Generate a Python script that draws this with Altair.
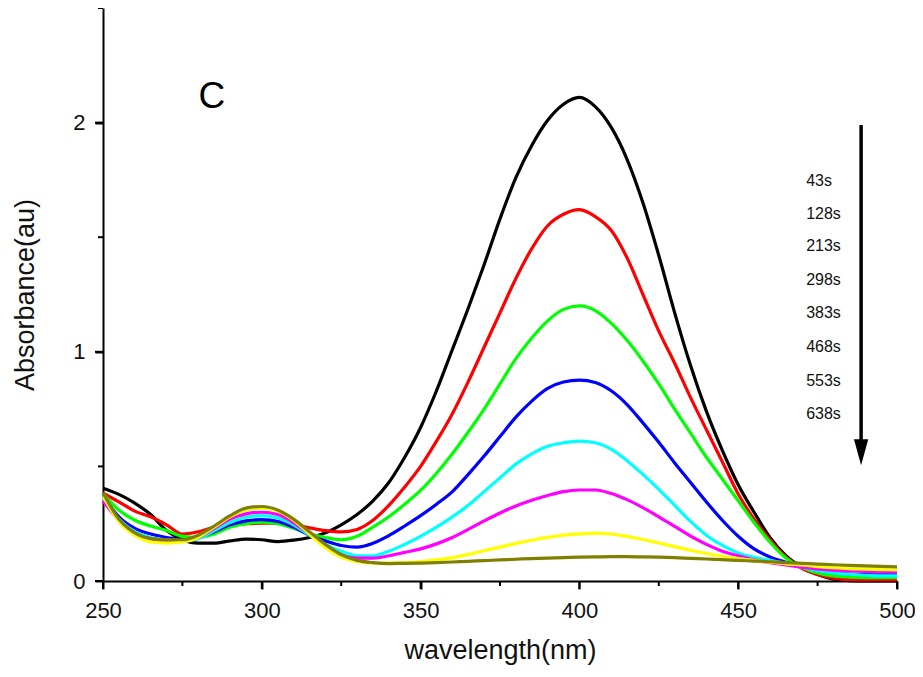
import altair as alt
import pandas as pd

wavelength = [250, 255, 260, 265, 270, 275, 280, 285, 290, 295, 300, 305, 310, 315, 320, 325,
              330, 335, 340, 345, 350, 355, 360, 365, 370, 375, 380, 385, 390, 395, 400, 405,
              410, 415, 420, 425, 430, 435, 440, 445, 450, 455, 460, 465, 470, 475, 480, 485,
              490, 495, 500]

times = ["43s", "128s", "213s", "298s", "383s", "468s", "553s", "638s"]
colors = ["#000000", "#ff0000", "#00ff00", "#0000ff", "#00ffff", "#ff00ff", "#ffff00", "#808000"]

abs_43 = [0.405, 0.378, 0.34, 0.29, 0.22, 0.18, 0.165, 0.165, 0.175, 0.183, 0.18, 0.172, 0.178, 0.19,
          0.21, 0.245, 0.29, 0.35, 0.43, 0.54, 0.67, 0.83, 1.01, 1.19, 1.38, 1.58, 1.76, 1.90, 2.01,
          2.08, 2.11, 2.07, 1.98, 1.84, 1.65, 1.42, 1.17, 0.94, 0.74, 0.57, 0.42, 0.30, 0.19, 0.11,
          0.06, 0.028, 0.008, 0.002, 0.0, 0.0, 0.0]
abs_128 = [0.383, 0.345, 0.305, 0.28, 0.245, 0.205, 0.215, 0.235, 0.245, 0.25, 0.252, 0.252, 0.245,
           0.232, 0.22, 0.214, 0.225, 0.265, 0.33, 0.41, 0.50, 0.61, 0.73, 0.87, 1.02, 1.17, 1.32,
           1.45, 1.55, 1.60, 1.62, 1.59, 1.53, 1.41, 1.25, 1.09, 0.95, 0.80, 0.66, 0.52, 0.38, 0.27,
           0.18, 0.105, 0.055, 0.028, 0.012, 0.006, 0.005, 0.005, 0.005]
abs_213 = [0.38, 0.31, 0.265, 0.24, 0.22, 0.195, 0.19, 0.205, 0.235, 0.25, 0.257, 0.25, 0.23, 0.205,
           0.19, 0.18, 0.195, 0.235, 0.28, 0.335, 0.395, 0.47, 0.555, 0.65, 0.75, 0.86, 0.97, 1.06,
           1.135, 1.185, 1.20, 1.18, 1.125, 1.05, 0.96, 0.86, 0.75, 0.645, 0.54, 0.445, 0.35, 0.255,
           0.17, 0.10, 0.06, 0.035, 0.022, 0.017, 0.015, 0.015, 0.015]
abs_298 = [0.37, 0.28, 0.23, 0.205, 0.19, 0.18, 0.19, 0.215, 0.245, 0.262, 0.268, 0.26, 0.235, 0.2,
           0.175, 0.155, 0.148, 0.165, 0.198, 0.24, 0.285, 0.335, 0.39, 0.465, 0.545, 0.63, 0.715,
           0.785, 0.84, 0.868, 0.876, 0.866, 0.83, 0.77, 0.69, 0.605, 0.515, 0.43, 0.345, 0.265,
           0.195, 0.14, 0.105, 0.082, 0.062, 0.046, 0.036, 0.03, 0.028, 0.027, 0.027]
abs_383 = [0.36, 0.27, 0.215, 0.19, 0.18, 0.175, 0.185, 0.22, 0.255, 0.278, 0.285, 0.275, 0.245, 0.2,
           0.16, 0.13, 0.11, 0.11, 0.13, 0.16, 0.195, 0.235, 0.28, 0.33, 0.39, 0.45, 0.51, 0.555,
           0.588, 0.603, 0.61, 0.603, 0.575, 0.525, 0.465, 0.40, 0.33, 0.26, 0.20, 0.155, 0.122,
           0.103, 0.09, 0.076, 0.06, 0.045, 0.035, 0.03, 0.025, 0.022, 0.022]
abs_468 = [0.35, 0.265, 0.205, 0.185, 0.175, 0.175, 0.19, 0.23, 0.27, 0.293, 0.30, 0.29, 0.255, 0.205,
           0.155, 0.115, 0.10, 0.10, 0.11, 0.125, 0.14, 0.162, 0.19, 0.225, 0.262, 0.297, 0.327,
           0.352, 0.373, 0.39, 0.397, 0.397, 0.382, 0.355, 0.32, 0.28, 0.238, 0.196, 0.16, 0.13,
           0.11, 0.092, 0.08, 0.07, 0.06, 0.052, 0.047, 0.044, 0.042, 0.041, 0.04]
abs_553 = [0.37, 0.26, 0.20, 0.17, 0.165, 0.17, 0.19, 0.235, 0.28, 0.31, 0.318, 0.305, 0.265, 0.205,
           0.145, 0.105, 0.085, 0.078, 0.078, 0.08, 0.085, 0.092, 0.102, 0.116, 0.132, 0.148, 0.164,
           0.178, 0.19, 0.20, 0.206, 0.209, 0.205, 0.195, 0.181, 0.166, 0.15, 0.134, 0.12, 0.108,
           0.098, 0.09, 0.082, 0.075, 0.07, 0.063, 0.058, 0.054, 0.052, 0.05, 0.048]
abs_638 = [0.385, 0.27, 0.21, 0.185, 0.18, 0.18, 0.20, 0.24, 0.285, 0.318, 0.325, 0.31, 0.27, 0.215,
           0.16, 0.115, 0.09, 0.08, 0.076, 0.077, 0.078, 0.08, 0.083, 0.086, 0.089, 0.092, 0.095,
           0.098, 0.10, 0.102, 0.104, 0.105, 0.106, 0.106, 0.105, 0.104, 0.102, 0.099, 0.096, 0.093,
           0.09, 0.087, 0.084, 0.08, 0.077, 0.074, 0.071, 0.068, 0.066, 0.064, 0.062]

series = [abs_43, abs_128, abs_213, abs_298, abs_383, abs_468, abs_553, abs_638]

# axis tick values
x_major = [250, 300, 350, 400, 450, 500]
x_minor = [275, 325, 375, 425, 475]
y_major = [0, 1, 2]
y_minor = [0.5, 1.5, 2.5]

# legend-like labels and arrow annotation (data coordinates)
label_x = [471.4] * 8
label_y = [1.747, 1.603, 1.46, 1.312, 1.168, 1.02, 0.871, 0.728]
arrow_x = [488.7]
arrow_top = [1.99]
arrow_bottom = [0.58]
arrow_head_y = [0.562]
panel_letter = ["C"]
panel_x = [284.3]
panel_y = [2.11]

rows = []
for order, (t, vals) in enumerate(zip(times, series)):
    for w, v in zip(wavelength, vals):
        rows.append({"wavelength": w, "absorbance": v, "time": t, "order": order})
df = pd.DataFrame(rows)

W, H = 794, 573
FONT = "Liberation Sans"
xs = alt.Scale(domain=[250, 500], nice=False, zero=False)
ys = alt.Scale(domain=[0, 2.5], nice=False, zero=True)

x_axis = alt.Axis(
    values=x_major, ticks=True, tickSize=8, tickColor="black", tickWidth=2, orient="bottom",
    format="d", labelFlush=False, grid=False, domainColor="black", domainWidth=2,
    labelFont=FONT, labelFontSize=22, labelColor="#111", labelPadding=11,
    title="wavelength(nm)", titleFont=FONT, titleFontSize=27, titleFontWeight="normal",
    titleColor="#111", titlePadding=16,
)
y_axis = alt.Axis(
    values=y_major, ticks=True, tickSize=8, tickColor="black", tickWidth=2, orient="left",
    format="d", labelFlush=False, grid=False, domainColor="black", domainWidth=2,
    labelFont=FONT, labelFontSize=22, labelColor="#111", labelPadding=10,
    title="Absorbance(au)", titleFont=FONT, titleFontSize=27, titleFontWeight="normal",
    titleColor="#111", titlePadding=33,
)

lines = alt.Chart(df).mark_line(strokeWidth=3.2, interpolate="monotone").encode(
    x=alt.X("wavelength:Q", scale=xs, axis=x_axis),
    y=alt.Y("absorbance:Q", scale=ys, axis=y_axis),
    color=alt.Color("time:N", scale=alt.Scale(domain=times, range=colors), legend=None),
    strokeWidth=alt.condition("datum.time === '638s'", alt.value(4.2), alt.value(3.2)),
    order=alt.Order("order:Q"),
)

# explicit tick marks (positions from the shared scales)
xmaj_t = alt.Chart(pd.DataFrame({"v": x_major})).mark_rule(color="black", strokeWidth=2).encode(
    x=alt.X("v:Q", scale=xs), y=alt.value(H), y2=alt.value(H + 8))
xmin_t = alt.Chart(pd.DataFrame({"v": x_minor})).mark_rule(color="black", strokeWidth=2).encode(
    x=alt.X("v:Q", scale=xs), y=alt.value(H), y2=alt.value(H + 5))
ymaj_t = alt.Chart(pd.DataFrame({"v": y_major})).mark_rule(color="black", strokeWidth=2).encode(
    y=alt.Y("v:Q", scale=ys), x=alt.value(0), x2=alt.value(-8))
ymin_t = alt.Chart(pd.DataFrame({"v": y_minor})).mark_rule(color="black", strokeWidth=2).encode(
    y=alt.Y("v:Q", scale=ys), x=alt.value(0), x2=alt.value(-5))

lab_df = pd.DataFrame({"x": label_x, "y": label_y, "t": times})
labels = alt.Chart(lab_df).mark_text(
    align="left", baseline="middle", font=FONT, fontSize=16, color="#111"
).encode(x=alt.X("x:Q", scale=xs), y=alt.Y("y:Q", scale=ys), text="t:N")

arr_df = pd.DataFrame({"x": arrow_x, "y": arrow_top, "y2": arrow_bottom, "h": arrow_head_y})
arrow = alt.Chart(arr_df).mark_rule(strokeWidth=3.5, color="black").encode(
    x=alt.X("x:Q", scale=xs), y=alt.Y("y:Q", scale=ys), y2="y2:Q"
)
head = alt.Chart(arr_df).mark_point(
    shape="M-0.55,-1L0.55,-1L0,1Z", filled=True, color="black", opacity=1, size=676
).encode(x=alt.X("x:Q", scale=xs), y=alt.Y("h:Q", scale=ys))

c_df = pd.DataFrame({"x": panel_x, "y": panel_y, "t": panel_letter})
letter = alt.Chart(c_df).mark_text(
    align="center", baseline="middle", font=FONT, fontSize=37, color="black"
).encode(x=alt.X("x:Q", scale=xs), y=alt.Y("y:Q", scale=ys), text="t:N")

chart = alt.layer(lines, xmaj_t, xmin_t, ymaj_t, ymin_t, labels, arrow, head, letter).properties(
    width=W, height=H,
    autosize=alt.AutoSizeParams(type="none"),
    padding={"left": 95, "top": 0, "right": 18, "bottom": 88},
).configure(background="white").configure_view(stroke=None)

chart.save("out.html", embed_options={"renderer": "svg", "actions": False})
